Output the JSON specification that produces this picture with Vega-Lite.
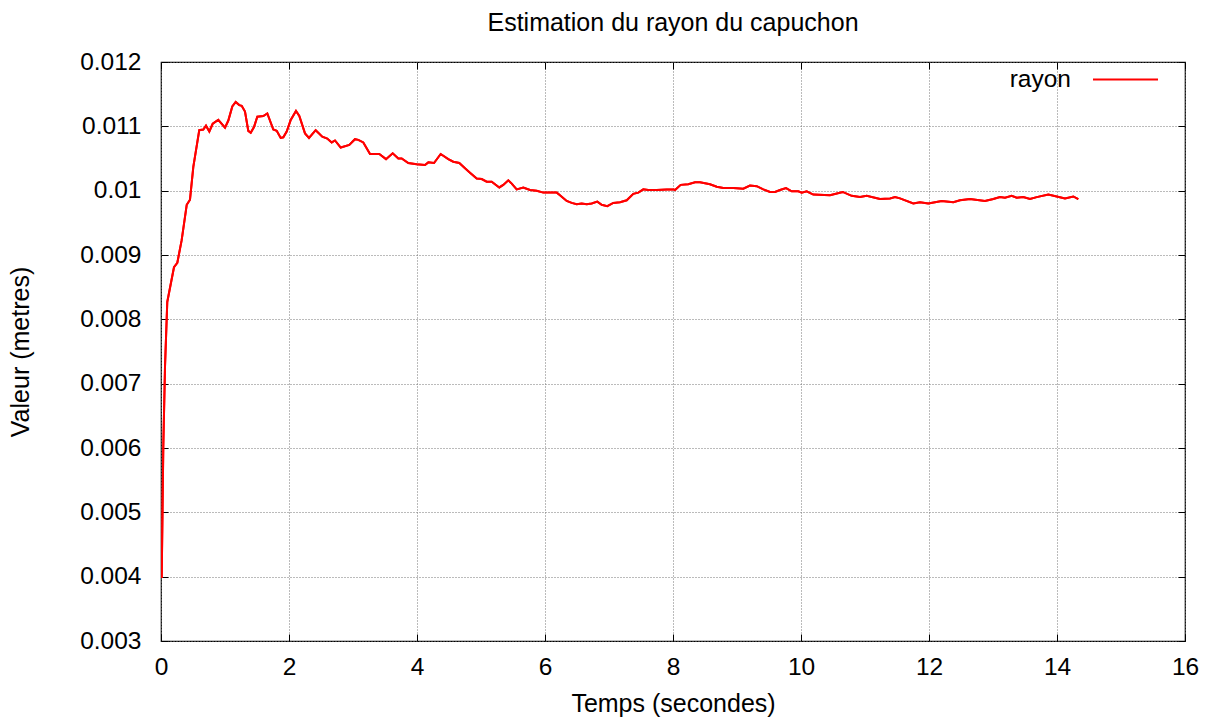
{
  "$schema": "https://vega.github.io/schema/vega-lite/v6.json",
  "autosize": {"type": "none"},
  "width": 1024,
  "height": 579,
  "padding": {"left": 161, "top": 62, "right": 28, "bottom": 81},
  "background": "white",
  "config": {
    "font": "Liberation Sans",
    "view": {"stroke": "black", "strokeWidth": 1.2},
    "axis": {
      "labelFont": "Liberation Sans", "titleFont": "Liberation Sans",
      "labelFontSize": 24.5, "titleFontSize": 25, "titleFontWeight": "normal",
      "labelColor": "black", "titleColor": "black", "labelFlush": false, "labelOverlap": false,
      "gridColor": "#777777", "gridDash": [1, 2], "gridWidth": 1, "gridOpacity": 1,
      "domain": false, "tickColor": "black", "tickSize": -7, "tickWidth": 1
    }
  },
  "title": {"text": "Estimation du rayon du capuchon", "fontSize": 25, "fontWeight": "normal", "font": "Liberation Sans", "anchor": "middle", "offset": 10, "color": "black"},
  "data": {"values": [
    {"t": 0.011, "v": 0.00398}, {"t": 0.036, "v": 0.00602}, {"t": 0.0625, "v": 0.00726}, {"t": 0.098, "v": 0.00827},
    {"t": 0.203, "v": 0.00881}, {"t": 0.255, "v": 0.00888}, {"t": 0.323, "v": 0.00923}, {"t": 0.402, "v": 0.00978},
    {"t": 0.453, "v": 0.00986}, {"t": 0.505, "v": 0.01037}, {"t": 0.598, "v": 0.01094}, {"t": 0.661, "v": 0.01095},
    {"t": 0.703, "v": 0.01101}, {"t": 0.755, "v": 0.01092}, {"t": 0.808, "v": 0.01104}, {"t": 0.895, "v": 0.0111},
    {"t": 1.0, "v": 0.01098}, {"t": 1.052, "v": 0.01109}, {"t": 1.114, "v": 0.01131}, {"t": 1.167, "v": 0.01138},
    {"t": 1.223, "v": 0.01133}, {"t": 1.261, "v": 0.01132}, {"t": 1.3125, "v": 0.01123}, {"t": 1.364, "v": 0.01093},
    {"t": 1.402, "v": 0.0109}, {"t": 1.453, "v": 0.01099}, {"t": 1.505, "v": 0.01115}, {"t": 1.598, "v": 0.01116},
    {"t": 1.661, "v": 0.0112}, {"t": 1.755, "v": 0.01095}, {"t": 1.808, "v": 0.01093}, {"t": 1.87, "v": 0.01082},
    {"t": 1.911, "v": 0.01083}, {"t": 1.964, "v": 0.01092}, {"t": 2.027, "v": 0.0111}, {"t": 2.109, "v": 0.01124},
    {"t": 2.161, "v": 0.01116}, {"t": 2.25, "v": 0.01089}, {"t": 2.3125, "v": 0.01082}, {"t": 2.417, "v": 0.01094},
    {"t": 2.52, "v": 0.01084}, {"t": 2.598, "v": 0.01081}, {"t": 2.667, "v": 0.01075}, {"t": 2.719, "v": 0.01078},
    {"t": 2.808, "v": 0.01067}, {"t": 2.942, "v": 0.01071}, {"t": 3.031, "v": 0.0108}, {"t": 3.083, "v": 0.01079},
    {"t": 3.161, "v": 0.01075}, {"t": 3.266, "v": 0.01057}, {"t": 3.411, "v": 0.01057}, {"t": 3.516, "v": 0.01049},
    {"t": 3.62, "v": 0.01058}, {"t": 3.708, "v": 0.0105}, {"t": 3.761, "v": 0.0105}, {"t": 3.864, "v": 0.01043},
    {"t": 3.995, "v": 0.01041}, {"t": 4.125, "v": 0.0104}, {"t": 4.177, "v": 0.01044}, {"t": 4.266, "v": 0.01043},
    {"t": 4.37, "v": 0.01057}, {"t": 4.489, "v": 0.01049}, {"t": 4.567, "v": 0.01045}, {"t": 4.661, "v": 0.01043},
    {"t": 4.75, "v": 0.01035}, {"t": 4.828, "v": 0.01028}, {"t": 4.933, "v": 0.01019}, {"t": 5.011, "v": 0.01018},
    {"t": 5.089, "v": 0.01014}, {"t": 5.167, "v": 0.01014}, {"t": 5.286, "v": 0.01005}, {"t": 5.348, "v": 0.01009},
    {"t": 5.427, "v": 0.01016}, {"t": 5.48, "v": 0.01011}, {"t": 5.558, "v": 0.01002}, {"t": 5.661, "v": 0.01005},
    {"t": 5.766, "v": 0.01001}, {"t": 5.87, "v": 0.01}, {"t": 5.973, "v": 0.00997}, {"t": 6.183, "v": 0.00997},
    {"t": 6.234, "v": 0.00993}, {"t": 6.339, "v": 0.00984}, {"t": 6.417, "v": 0.00981}, {"t": 6.495, "v": 0.00979},
    {"t": 6.573, "v": 0.0098}, {"t": 6.652, "v": 0.00979}, {"t": 6.73, "v": 0.0098}, {"t": 6.817, "v": 0.00983},
    {"t": 6.886, "v": 0.00978}, {"t": 6.973, "v": 0.00976}, {"t": 7.067, "v": 0.00981}, {"t": 7.172, "v": 0.00982},
    {"t": 7.277, "v": 0.00985}, {"t": 7.38, "v": 0.00995}, {"t": 7.458, "v": 0.00997}, {"t": 7.536, "v": 0.01002},
    {"t": 7.614, "v": 0.01001}, {"t": 7.745, "v": 0.01001}, {"t": 7.902, "v": 0.01002}, {"t": 8.005, "v": 0.01002},
    {"t": 8.031, "v": 0.01001}, {"t": 8.12, "v": 0.01009}, {"t": 8.239, "v": 0.0101}, {"t": 8.344, "v": 0.01013},
    {"t": 8.422, "v": 0.01013}, {"t": 8.578, "v": 0.0101}, {"t": 8.683, "v": 0.01006}, {"t": 8.786, "v": 0.01004},
    {"t": 8.942, "v": 0.01004}, {"t": 9.098, "v": 0.01003}, {"t": 9.203, "v": 0.01008}, {"t": 9.308, "v": 0.01007},
    {"t": 9.411, "v": 0.01002}, {"t": 9.516, "v": 0.00998}, {"t": 9.594, "v": 0.00998}, {"t": 9.672, "v": 0.01001},
    {"t": 9.766, "v": 0.01004}, {"t": 9.855, "v": 0.00999}, {"t": 9.958, "v": 0.00999}, {"t": 10.011, "v": 0.00997},
    {"t": 10.089, "v": 0.00999}, {"t": 10.192, "v": 0.00994}, {"t": 10.453, "v": 0.00993}, {"t": 10.652, "v": 0.00998},
    {"t": 10.792, "v": 0.00992}, {"t": 10.922, "v": 0.0099}, {"t": 11.027, "v": 0.00992}, {"t": 11.234, "v": 0.00987},
    {"t": 11.391, "v": 0.00988}, {"t": 11.469, "v": 0.0099}, {"t": 11.547, "v": 0.00988}, {"t": 11.755, "v": 0.0098},
    {"t": 11.859, "v": 0.00982}, {"t": 11.989, "v": 0.0098}, {"t": 12.198, "v": 0.00984}, {"t": 12.38, "v": 0.00982},
    {"t": 12.484, "v": 0.00985}, {"t": 12.641, "v": 0.00987}, {"t": 12.875, "v": 0.00984}, {"t": 13.005, "v": 0.00987},
    {"t": 13.109, "v": 0.0099}, {"t": 13.1875, "v": 0.00989}, {"t": 13.292, "v": 0.00992}, {"t": 13.37, "v": 0.00989},
    {"t": 13.473, "v": 0.0099}, {"t": 13.578, "v": 0.00987}, {"t": 13.683, "v": 0.0099}, {"t": 13.864, "v": 0.00994},
    {"t": 13.995, "v": 0.00991}, {"t": 14.125, "v": 0.00988}, {"t": 14.255, "v": 0.00991}, {"t": 14.333, "v": 0.00987}
  ]},
  "transform": [{"calculate": "'rayon'", "as": "serie"}],
  "layer": [
    {
      "mark": {"type": "line", "strokeWidth": 2, "clip": true},
      "encoding": {
        "x": {"field": "t", "type": "quantitative", "scale": {"domain": [0, 16], "nice": false, "zero": false},
          "axis": {"orient": "bottom", "title": "Temps (secondes)", "values": [0, 2, 4, 6, 8, 10, 12, 14, 16], "labelPadding": 21, "titlePadding": 13, "grid": true}},
        "y": {"field": "v", "type": "quantitative", "scale": {"domain": [0.003, 0.012], "nice": false, "zero": false},
          "axis": {"orient": "left", "title": "Valeur (metres)", "values": [0.003, 0.004, 0.005, 0.006, 0.007, 0.008, 0.009, 0.01, 0.011, 0.012], "labelExpr": "datum.value == 0.01 ? '0.01' : format(datum.value, '.3f')", "labelPadding": 27, "titlePadding": 46, "grid": true}},
        "color": {"field": "serie", "type": "nominal", "scale": {"range": ["#ff0000"]},
          "legend": {"orient": "none", "legendX": 931, "legendY": -16, "title": null, "symbolType": "stroke", "symbolSize": 4225, "symbolStrokeWidth": 2, "labelFontSize": 24.5, "labelFont": "Liberation Sans", "labelColor": "black", "labelAlign": "right", "labelOffset": -88, "padding": 0}}
      }
    },
    {
      "mark": {"type": "line", "strokeWidth": 2, "clip": true},
      "encoding": {
        "x": {"field": "t", "type": "quantitative", "scale": {"domain": [0, 16], "nice": false, "zero": false},
          "axis": {"orient": "top", "title": null, "labels": false, "grid": false, "values": [0, 2, 4, 6, 8, 10, 12, 14, 16]}},
        "y": {"field": "v", "type": "quantitative", "scale": {"domain": [0.003, 0.012], "nice": false, "zero": false},
          "axis": {"orient": "right", "title": null, "labels": false, "grid": false, "values": [0.003, 0.004, 0.005, 0.006, 0.007, 0.008, 0.009, 0.01, 0.011, 0.012]}},
        "color": {"field": "serie", "type": "nominal"}
      }
    }
  ],
  "resolve": {"axis": {"x": "independent", "y": "independent"}}
}
